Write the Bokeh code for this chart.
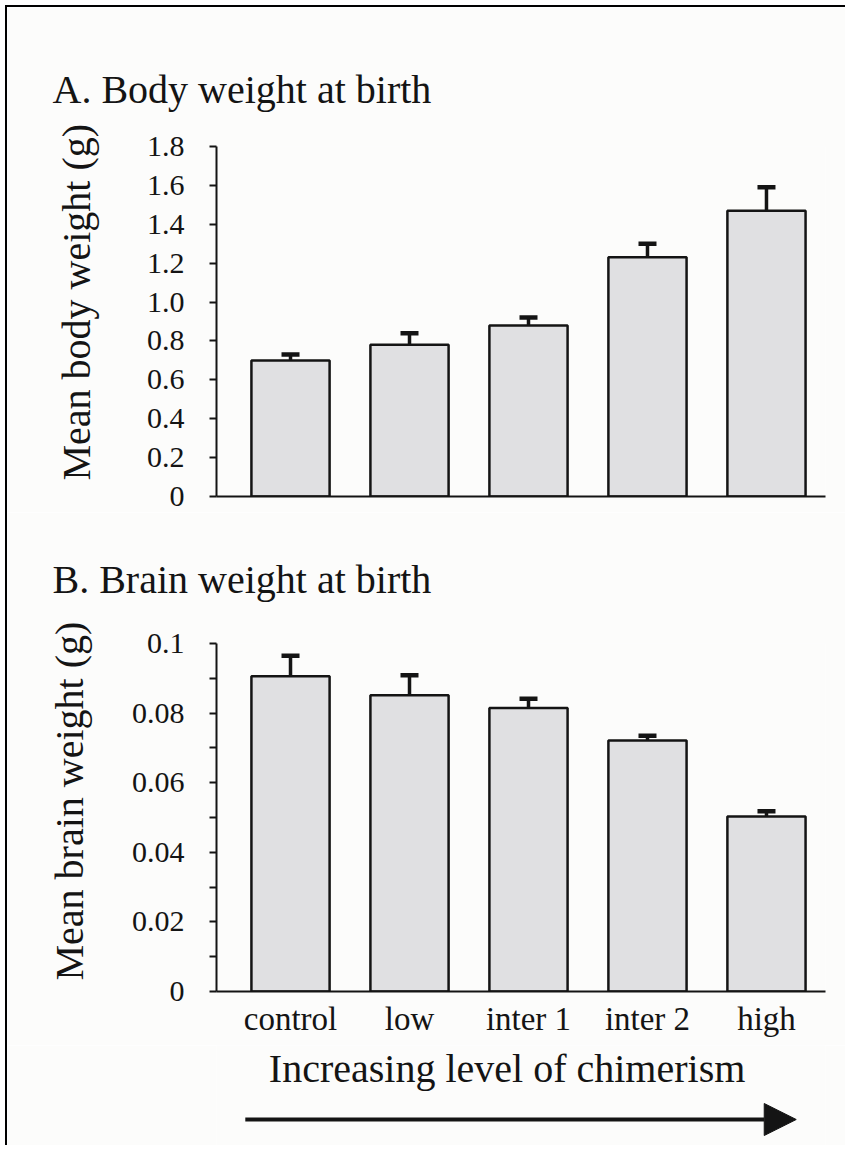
import math
from bokeh.plotting import figure
from bokeh.models import (Range1d, FixedTicker, Label, Whisker, TeeHead, Title,
                          ColumnDataSource, Arrow, NormalHead)
from bokeh.layouts import column
from bokeh.embed import file_html
from bokeh.resources import INLINE

# ---------------- data ----------------
categories = ["control", "low", "inter 1", "inter 2", "high"]
body_mean = [0.70, 0.78, 0.88, 1.23, 1.47]
body_err = [0.03, 0.06, 0.04, 0.07, 0.12]
brain_mean = [0.0906, 0.0851, 0.0815, 0.0721, 0.0503]
brain_err = [0.0059, 0.0058, 0.0026, 0.0014, 0.0015]

body_ticks = [0, 0.2, 0.4, 0.6, 0.8, 1.0, 1.2, 1.4, 1.6, 1.8]
body_tick_labels = ["0", "0.2", "0.4", "0.6", "0.8", "1.0", "1.2", "1.4", "1.6", "1.8"]
brain_ticks = [0, 0.02, 0.04, 0.06, 0.08, 0.1]
brain_tick_labels = ["0", "0.02", "0.04", "0.06", "0.08", "0.1"]
brain_minor_ticks = [0.01, 0.03, 0.05, 0.07, 0.09]

titles = ["A. Body weight at birth", "B. Brain weight at birth"]
y_labels = ["Mean body weight (g)", "Mean brain weight (g)"]
x_caption = "Increasing level of chimerism"

# ---------------- style ----------------
FONT = "Liberation Serif"
INK = "#141414"
BG = "#fcfcfb"
BAR_FILL = "#e0e0e2"
W = 838
ML, MR = 209, 20
X_START, X_END = -0.622, 4.496

xs = list(range(len(categories)))


def panel(mean, err, ticks, tick_labels, minor, y_end, height, top, bottom,
          title, ylabel, title_standoff, ylabel_offset, ylabel_standoff, show_x):
    p = figure(width=W, height=height, output_backend="svg", toolbar_location=None,
               x_range=Range1d(X_START, X_END), y_range=Range1d(0, y_end),
               min_border_left=ML, min_border_right=MR,
               min_border_top=top, min_border_bottom=bottom)
    p.background_fill_color = BG
    p.border_fill_color = BG
    p.outline_line_color = None
    p.grid.visible = False

    src = ColumnDataSource(dict(x=xs, mean=mean,
                                upper=[m + e for m, e in zip(mean, err)]))
    p.vbar(x="x", top="mean", width=0.657, source=src, fill_color=BAR_FILL,
           line_color=INK, line_width=2.5)
    p.add_layout(Whisker(source=src, base="x", lower="mean", upper="upper",
                         dimension="height", line_color=INK, line_width=3.5,
                         lower_head=None,
                         upper_head=TeeHead(size=18, line_width=4.5, line_color=INK)))

    ya = p.yaxis[0]
    ya.ticker = FixedTicker(ticks=ticks, minor_ticks=minor)
    ya.major_label_overrides = {t: l for t, l in zip(ticks, tick_labels)}
    ya.axis_line_width = 2
    ya.axis_line_color = INK
    ya.major_tick_line_width = 2
    ya.minor_tick_line_width = 2
    ya.major_tick_line_color = INK
    ya.minor_tick_line_color = INK
    ya.major_tick_in = 0
    ya.major_tick_out = 7
    ya.minor_tick_in = 0
    ya.minor_tick_out = 7
    ya.major_label_standoff = 25
    ya.major_label_text_font = FONT
    ya.major_label_text_font_size = "30px"
    ya.major_label_text_color = INK

    xa = p.xaxis[0]
    xa.axis_line_width = 2
    xa.axis_line_color = INK
    xa.major_tick_in = 0
    xa.major_tick_out = 0
    xa.minor_tick_in = 0
    xa.minor_tick_out = 0
    if show_x:
        xa.ticker = FixedTicker(ticks=xs)
        xa.major_label_overrides = {i: c for i, c in zip(xs, categories)}
        xa.major_label_standoff = 9
        xa.major_label_text_font = FONT
        xa.major_label_text_font_size = "33px"
        xa.major_label_text_color = INK
    else:
        xa.ticker = FixedTicker(ticks=[])
        xa.major_label_standoff = 0

    p.title.text = title
    p.title.align = "left"
    p.title.offset = 52 - 216
    p.title.standoff = title_standoff
    p.title.text_font = FONT
    p.title.text_font_size = "40px"
    p.title.text_font_style = "normal"
    p.title.text_color = INK

    p.add_layout(Title(text=ylabel, align="left", offset=ylabel_offset,
                       standoff=ylabel_standoff, text_font=FONT,
                       text_font_size="40px", text_font_style="normal",
                       text_color=INK), "left")
    return p


# panel A: figure y 7..512, frame 146..496
pa = panel(body_mean, body_err, body_ticks, body_tick_labels, [], 1.8,
           505, 139, 16, titles[0], y_labels[0], 70, 16, 89, False)
# panel B: figure y 512..1045, frame 643..991
pb = panel(brain_mean, brain_err, brain_ticks, brain_tick_labels,
           brain_minor_ticks, 0.1, 533, 131, 54, titles[1], y_labels[1],
           84, 11, 74, True)

# bottom caption with arrow, on the same x scale as the panels
pc = figure(width=W, height=100, output_backend="svg", toolbar_location=None,
            x_range=Range1d(X_START, X_END), y_range=Range1d(0, 1),
            x_axis_type=None, y_axis_type=None,
            min_border_left=ML, min_border_right=MR,
            min_border_top=0, min_border_bottom=0)
pc.background_fill_color = BG
pc.border_fill_color = BG
pc.outline_line_color = None
pc.grid.visible = False
pc.add_layout(Label(x=1.82, y=0.77, text=x_caption, text_font=FONT,
                    text_font_size="40px", text_color=INK,
                    text_align="center", text_baseline="middle"))
pc.add_layout(Arrow(x_start=-0.38, y_start=0.26, x_end=4.25, y_end=0.26,
                    line_width=4, line_color=INK,
                    end=NormalHead(size=32, fill_color=INK, line_color=INK)))

layout = column(pa, pb, pc, spacing=0, margin=(5, 0, 0, 5),
                styles={"border-top": "2px solid #000",
                        "border-left": "2px solid #000"})

open("out.html", "w").write(file_html(layout, INLINE))
